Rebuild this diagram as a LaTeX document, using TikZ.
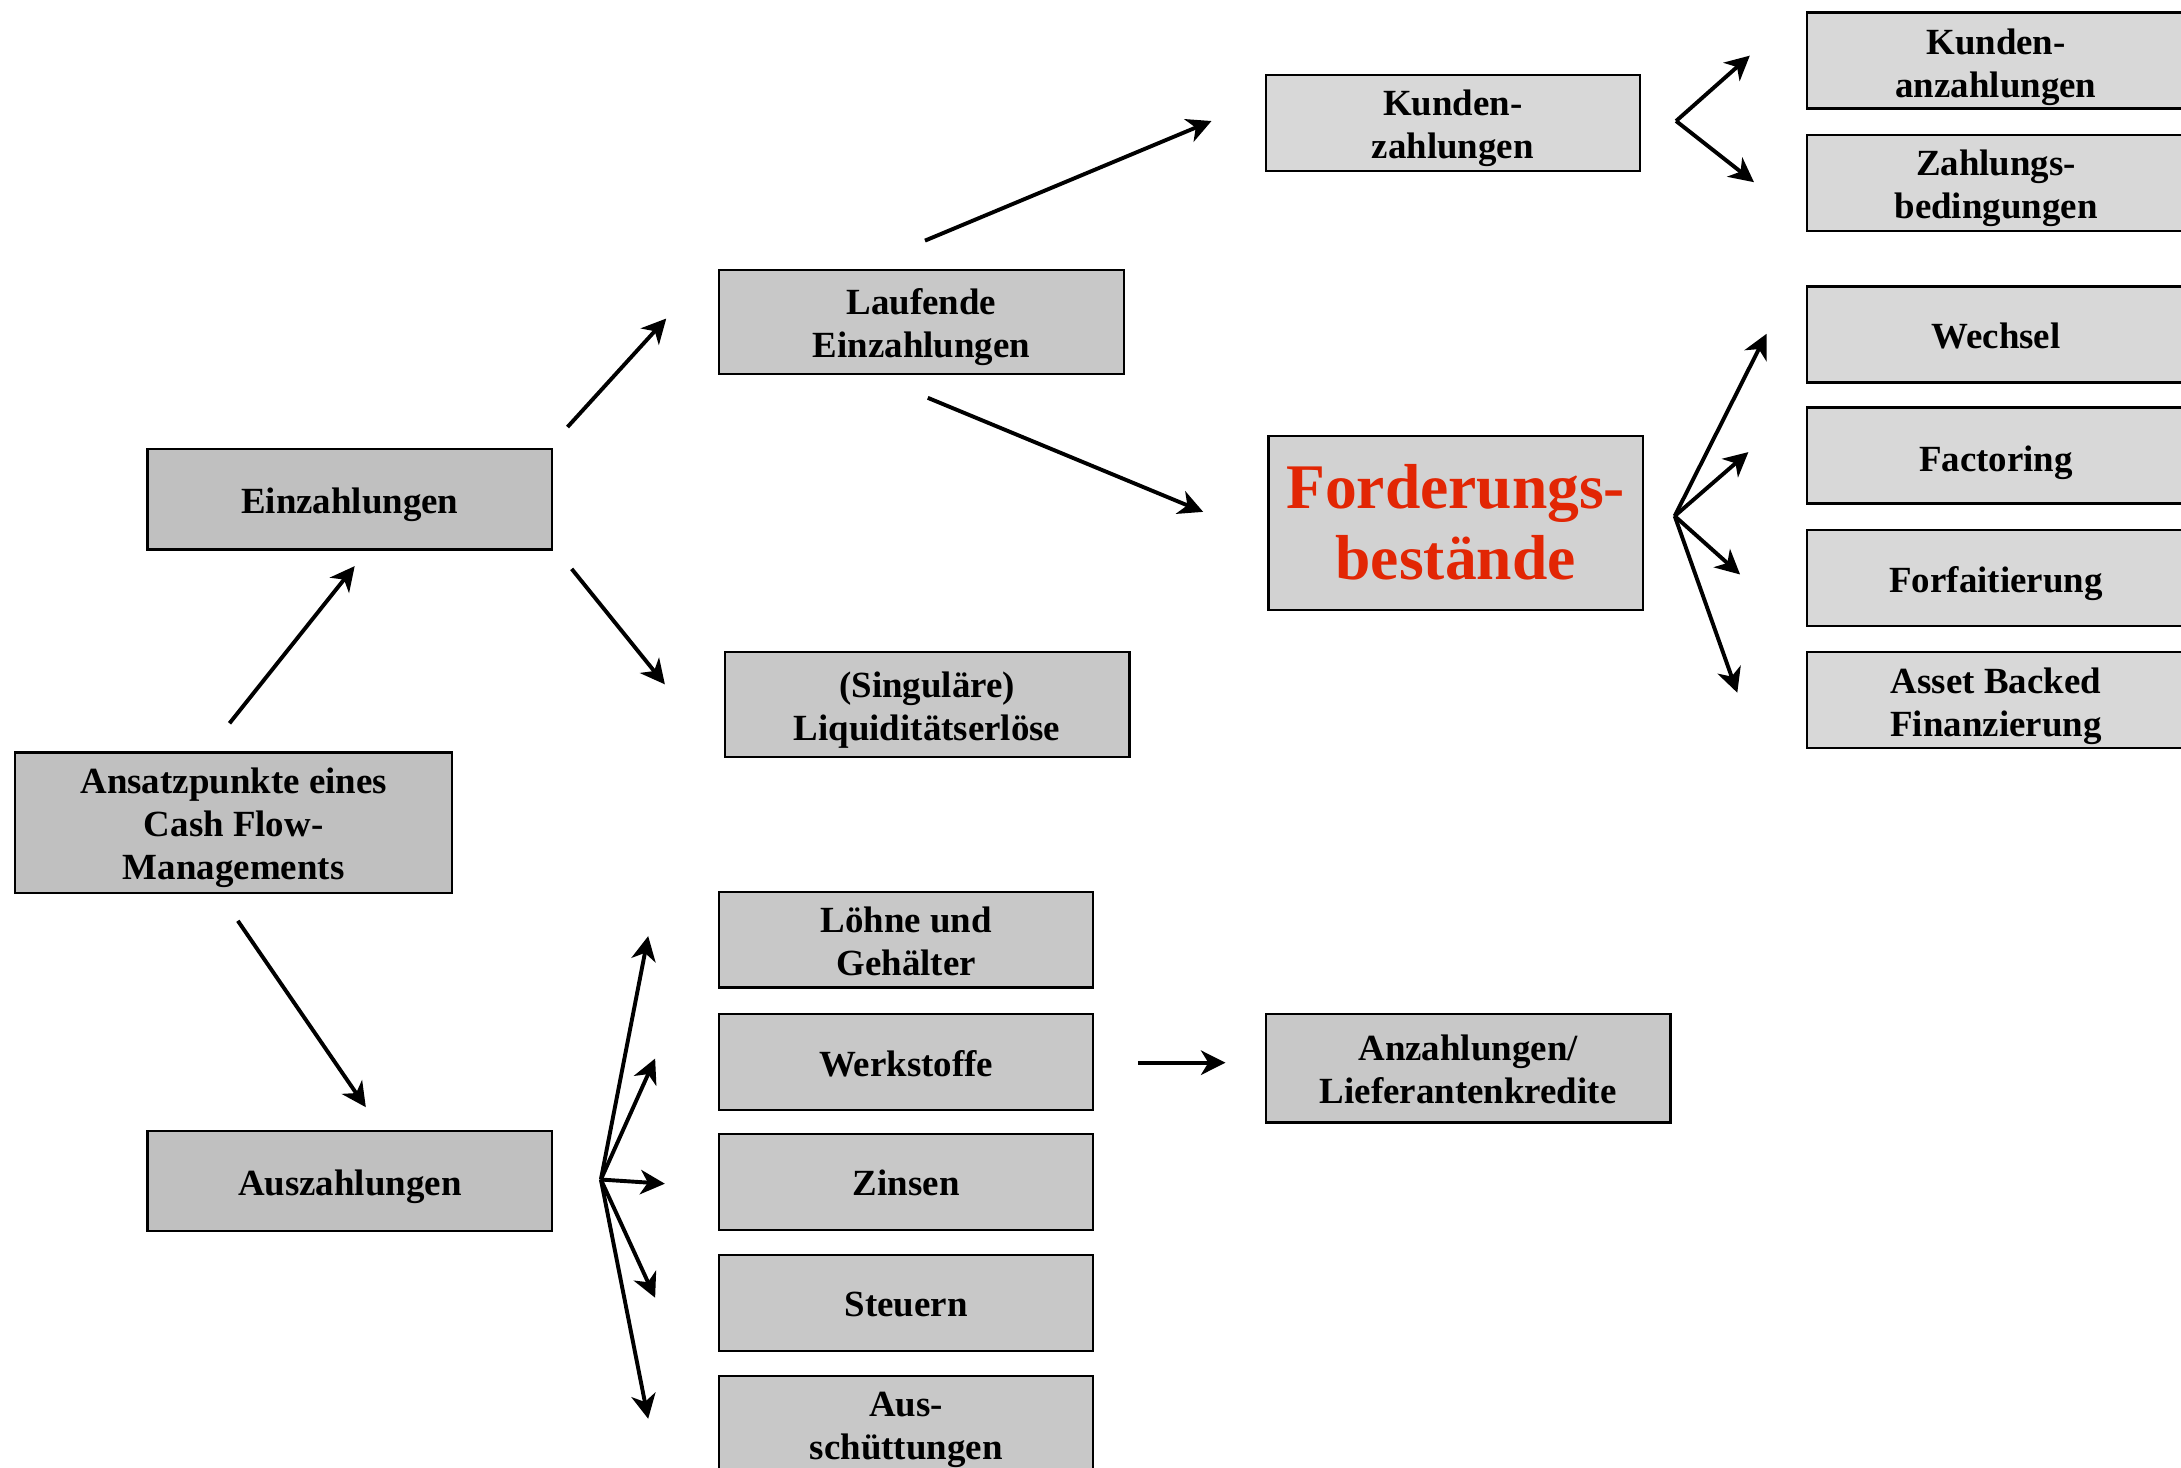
\documentclass[tikz,border=0pt]{standalone}
\usepackage{fontspec}
\setmainfont{Liberation Serif}
\usetikzlibrary{arrows.meta}
\definecolor{fillA}{RGB}{192,192,192}
\definecolor{fillB}{RGB}{200,200,200}
\definecolor{fillC}{RGB}{216,216,216}
\definecolor{fillD}{RGB}{210,210,210}
\definecolor{redtxt}{RGB}{226,38,4}
% centred block of lines, lowered slightly inside its box
\newcommand\boxtext[2][2.3pt]{\raisebox{-#1}[\height][\depth]{\begin{tabular}{@{}c@{}}#2\end{tabular}}}
\tikzset{
  box/.style={draw=black, line width=0.9pt, inner sep=0pt,
    font=\fontsize{15.1}{17.6}\selectfont\bfseries},
  wide/.style={minimum width=5.82cm},
  narrow/.style={minimum width=5.38cm},
  rcol/.style={minimum width=5.44cm, minimum height=1.38cm, fill=fillC},
  mcol/.style={narrow, minimum height=1.38cm, fill=fillB},
  bigred/.style={text=redtxt, font=\fontsize{26}{29}\selectfont\bfseries},
  conn/.style={line width=1.6pt, -{Stealth[length=10pt, width=10pt, inset=3pt]}},
}
\begin{document}
\begin{tikzpicture}[x=0.02cm, y=-0.02cm]
\useasboundingbox (0,0) rectangle (1568,1055);
\clip (0,0) rectangle (1568,1055);
\fill[white] (0,0) rectangle (1568,1055);

% left column
\node[box, minimum width=6.28cm, minimum height=2.02cm, fill=fillA] (ansatz) at (168,591.5)
  {\boxtext{Ansatzpunkte eines\\Cash Flow-\\Managements}};
\node[box, wide, minimum height=1.44cm, fill=fillA] (einz) at (251.5,359) {\boxtext{Einzahlungen}};
\node[box, wide, minimum height=1.44cm, fill=fillA] (ausz) at (251.5,849) {\boxtext{Auszahlungen}};

% second column
\node[box, wide, minimum height=1.5cm, fill=fillB] (lauf) at (662.5,231.5) {\boxtext{Laufende\\Einzahlungen}};
\node[box, wide, minimum height=1.5cm, fill=fillB] (sing) at (666.5,506.5) {\boxtext{(Singuläre)\\Liquiditätserlöse}};

\node[box, mcol] (loehne) at (651.5,675.5)  {\boxtext{Löhne und\\Gehälter}};
\node[box, mcol] (werk)   at (651.5,763.5)  {\boxtext{Werkstoffe}};
\node[box, mcol] (zins)   at (651.5,849.5)  {\boxtext{Zinsen}};
\node[box, mcol] (steuer) at (651.5,936.5)  {\boxtext{Steuern}};
\node[box, mcol] (aussch) at (651.5,1023.5) {\boxtext{Aus-\\schüttungen}};

% third column
\node[box, narrow, minimum height=1.38cm, fill=fillC] (kunz) at (1044.5,88.5) {\boxtext{Kunden-\\zahlungen}};
\node[box, bigred, narrow, minimum height=2.5cm, fill=fillD] (ford) at (1046.5,376)
  {\boxtext[2.9pt]{Forderungs-\\bestände}};
\node[box, wide, minimum height=1.56cm, fill=fillB] (anz) at (1055.5,768) {\boxtext{Anzahlungen/\\Lieferantenkredite}};

% right column
\node[box, rcol] (kanz) at (1435,43.5)  {\boxtext[2.9pt]{Kunden-\\anzahlungen}};
\node[box, rcol] (zbed) at (1435,131.5) {\boxtext{Zahlungs-\\bedingungen}};
\node[box, rcol] (wech) at (1435,240.5) {\boxtext{Wechsel}};
\node[box, rcol] (fact) at (1435,327.5) {\boxtext[2.9pt]{Factoring}};
\node[box, rcol] (forf) at (1435,415.5) {\boxtext{Forfaitierung}};
\node[box, rcol] (abs)  at (1435,503.5) {\boxtext{Asset Backed\\Finanzierung}};

% connector end points
\coordinate (a1s) at (165,520);  \coordinate (a1e) at (255,407);
\coordinate (a2s) at (171,662);  \coordinate (a2e) at (263,796);
\coordinate (e1s) at (408,307);  \coordinate (e1e) at (479,229);
\coordinate (e2s) at (411,409);  \coordinate (e2e) at (478,492);
\coordinate (l1s) at (665,173);  \coordinate (l1e) at (871,87);
\coordinate (l2s) at (667,286);  \coordinate (l2e) at (865,368);
\coordinate (kv)  at (1205,87);
\coordinate (k1e) at (1258,40);  \coordinate (k2e) at (1261,131);
\coordinate (fv)  at (1204,371);
\coordinate (f1e) at (1270,240); \coordinate (f2e) at (1257,325);
\coordinate (f3e) at (1251,413); \coordinate (f4e) at (1249,498);
\coordinate (av)  at (432,848);
\coordinate (o1e) at (466,673);  \coordinate (o2e) at (471,761);
\coordinate (o3e) at (478,851);  \coordinate (o4e) at (471,933);
\coordinate (o5e) at (466,1020);
\coordinate (ws)  at (818,764);  \coordinate (we)  at (881,764);

% connectors
\draw[conn] (a1s) -- (a1e);
\draw[conn] (a2s) -- (a2e);
\draw[conn] (e1s) -- (e1e);
\draw[conn] (e2s) -- (e2e);
\draw[conn] (l1s) -- (l1e);
\draw[conn] (l2s) -- (l2e);
\foreach \t in {k1e,k2e} \draw[conn] (kv) -- (\t);
\foreach \t in {f1e,f2e,f3e,f4e} \draw[conn] (fv) -- (\t);
\foreach \t in {o1e,o2e,o3e,o4e,o5e} \draw[conn] (av) -- (\t);
\draw[conn] (ws) -- (we);
\end{tikzpicture}
\end{document}
